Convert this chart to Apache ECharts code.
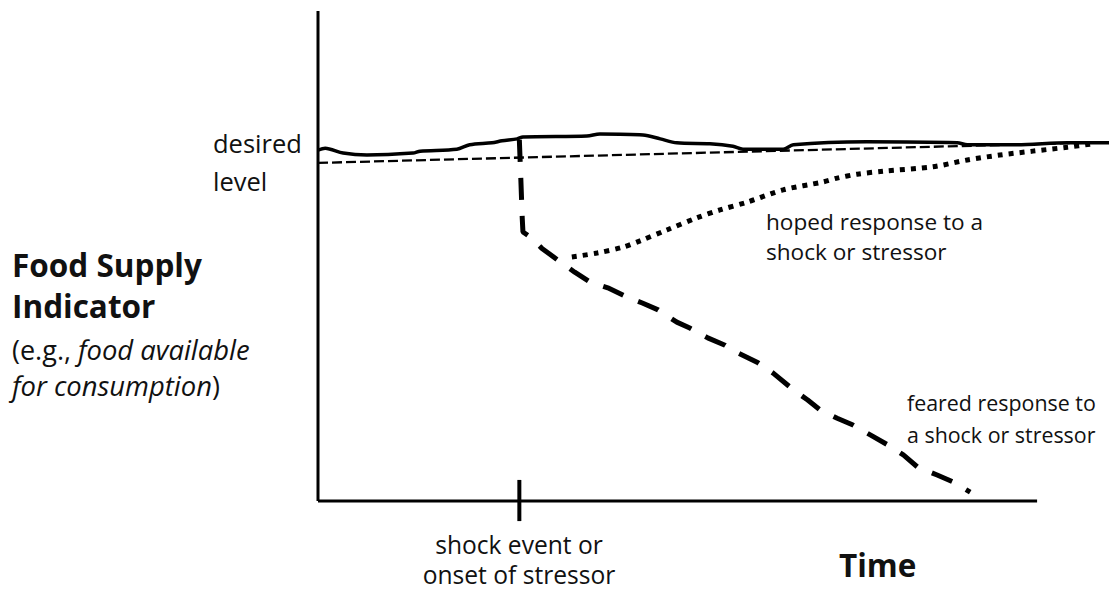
<!DOCTYPE html>
<html>
<head>
<meta charset="utf-8">
<script src="https://cdn.jsdelivr.net/npm/echarts@6/dist/echarts.min.js"></script>
<style>
html,body{margin:0;padding:0;background:#fff;}
#main{width:1109px;height:602px;}
</style>
</head>
<body>
<div id="main"></div>
<script>
// Time (x) and indicator level (y) in abstract units
const shockTime = 28;
const actualLevel = [
  [0,71.6],[1.0,72.0],[3.5,71.0],[6.8,70.6],[13.2,71.0],[14.2,71.4],[19.3,71.8],[21.1,72.7],
  [24.2,73.1],[25.6,73.5],[27.7,73.9],[28.5,74.3],[37.4,74.5],[39.2,74.9],[45.2,74.7],[47.6,73.9],
  [49.9,73.1],[54.5,72.9],[57.7,72.4],[59.1,71.8],[64.7,71.8],[66.1,72.7],[76.3,73.3],[88.9,73.1],
  [90.3,72.7],[97.2,72.7],[104.2,73.1],[110,73.1]
];
const desiredLevel = [[0,69.0],[106.4,73.1]];
const fearedResponse = [
  [28.0,73.7],[28.2,66.0],[28.4,57.8],[28.5,54.9],[29.5,53.9],[31.1,51.6],[33.7,48.8],[35.7,46.7],[37.8,44.7],
  [40.3,43.5],[43.0,41.6],[45.1,40.4],[47.3,39.0],[49.9,36.5],[51.7,35.3],[54.2,33.3],[56.6,31.8],
  [58.4,30.2],[61.2,28.2],[63.3,26.1],[66.1,22.7],[68.1,20.6],[69.8,18.6],[72.2,16.9],[74.4,15.5],
  [76.8,13.5],[79.3,11.4],[81.4,9.4],[83.4,6.9],[86.1,5.3],[88.3,3.9],[90.7,1.8]
];
const hopedResponse = [
  [35.3,49.8],[38.8,50.6],[42.4,51.8],[44.8,53.1],[48.5,55.3],[52.7,57.8],[55.9,59.4],[59.7,61.0],
  [64.7,63.5],[70.2,65.1],[72.2,65.9],[75.0,66.7],[78.6,67.3],[85.5,68.2],[90.3,69.6],[94.8,70.6],
  [99.4,71.4],[104.2,72.2],[107.8,72.9]
];
const xAxisExtent = [[0,0],[100,0]];
const yAxisExtent = [[0,0],[0,100]];
const shockTick = [[shockTime,4.3],[shockTime,-4.1]];

const FONT = '"Open Sans", sans-serif';
const chart = echarts.init(document.getElementById('main'), null, {renderer:'svg'});

const option = {
  animation: false,
  backgroundColor: '#fff',
  grid: { left: 318, top: 11, right: 0, bottom: 101 },
  xAxis: { type: 'value', min: 0, max: 110, show: false },
  yAxis: { type: 'value', min: 0, max: 100, show: false },
  series: [
    { type: 'line', data: yAxisExtent, symbol: 'none', clip: false, lineStyle: { color: '#000', width: 3 } },
    { type: 'line', data: xAxisExtent, symbol: 'none', clip: false, lineStyle: { color: '#000', width: 3 } },
    { type: 'line', data: shockTick, symbol: 'none', clip: false, lineStyle: { color: '#000', width: 4 } },
    { type: 'line', data: desiredLevel, symbol: 'none', clip: false, lineStyle: { color: '#000', width: 2.3, type: [10,4] } },
    { type: 'line', data: actualLevel, symbol: 'none', smooth: 0.3, clip: false, lineStyle: { color: '#000', width: 3.5 } },
    { type: 'line', data: hopedResponse, symbol: 'none', smooth: 0.3, clip: false, lineStyle: { color: '#000', width: 5, type: [5,6] } },
    { type: 'line', data: fearedResponse, symbol: 'none', smooth: false, clip: false, z: 5, lineStyle: { color: '#000', width: 5, type: [22,16], cap: 'butt' } }
  ],
  graphic: [
    { type: 'text', left: 213, top: 124, style: { text: 'desired\nlevel', fontFamily: FONT, fontSize: 25.5, lineHeight: 38, fill: '#111' } },
    { type: 'text', left: 12, top: 248, style: { text: 'Food Supply', fontFamily: FONT, fontSize: 31.5, fontWeight: 'bold', fill: '#111' } },
    { type: 'text', left: 12, top: 289, style: { text: 'Indicator', fontFamily: FONT, fontSize: 31.5, fontWeight: 'bold', fill: '#111' } },
    { type: 'text', left: 12, top: 331, style: {
        text: '{n|(e.g., }{i|food available}\n{i|for consumption}{n|)}',
        fontFamily: FONT, fontSize: 27, fill: '#111', lineHeight: 36,
        rich: { n: { fontFamily: FONT, fontSize: 27, fill: '#111', lineHeight: 36 }, i: { fontFamily: FONT, fontSize: 27.4, fontStyle: 'italic', fill: '#111', lineHeight: 36 } }
    } },
    { type: 'text', left: 766, top: 206, style: { text: 'hoped response to a\nshock or stressor', fontFamily: FONT, fontSize: 22.6, lineHeight: 30, fill: '#111' } },
    { type: 'text', left: 907, top: 386, style: { text: 'feared response to\na shock or stressor', fontFamily: FONT, fontSize: 21.4, lineHeight: 32, fill: '#111' } },
    { type: 'text', x: 519, top: 529, style: { text: 'shock event or\nonset of stressor', fontFamily: FONT, fontSize: 24.6, lineHeight: 30, fill: '#111', textAlign: 'center' } },
    { type: 'text', left: 839, top: 548, style: { text: 'Time', fontFamily: FONT, fontSize: 31.5, fontWeight: 'bold', fill: '#111' } }
  ]
};
chart.setOption(option);
</script>
</body>
</html>
